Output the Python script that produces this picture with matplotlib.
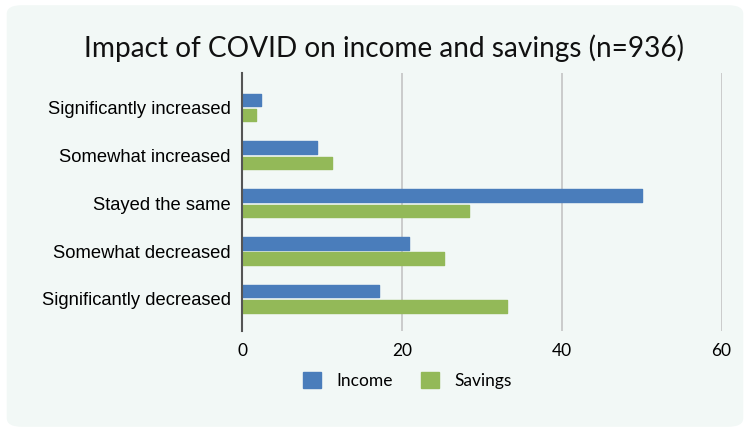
import matplotlib.pyplot as plt
import numpy as np
from matplotlib.patches import FancyBboxPatch

categories = ["Significantly increased", "Somewhat increased", "Stayed the same",
              "Somewhat decreased", "Significantly decreased"]
income = [2.4, 9.4, 50.0, 20.9, 17.2]
savings = [1.8, 11.3, 28.4, 25.3, 33.1]
ticks = [0, 20, 40, 60]

blue = "#4a7dbb"
green = "#93b958"
panel = "#f2f8f6"

fig = plt.figure(figsize=(7.5, 4.32), dpi=100)
fig.patch.set_facecolor("white")

# rounded panel behind everything
bg = FancyBboxPatch((0.009, 0.012), 0.982, 0.976, boxstyle="round,pad=0,rounding_size=0.02",
                    transform=fig.transFigure, facecolor=panel, edgecolor="none", zorder=-10)
fig.patches.append(bg)

ax = fig.add_axes([0.3227, 1 - 331 / 432, 0.962 - 0.3227, (331 - 73) / 432])
ax.set_facecolor("none")
ax.set_zorder(2)

y = np.arange(len(categories))
h = 0.26
off = 0.16
ax.barh(y - off, income, height=h, color=blue, edgecolor=blue, linewidth=1,
        joinstyle="round", label="Income", zorder=3)
ax.barh(y + off, savings, height=h, color=green, edgecolor=green, linewidth=1,
        joinstyle="round", label="Savings", zorder=3)

ax.set_ylim(4.67, -0.72)
ax.set_xlim(0, 60)
ax.set_xticks(ticks)
ax.set_xticklabels([str(t) for t in ticks], family="Lato", fontsize=12.5)
ax.set_yticks(y)
ax.set_yticklabels(categories, family="Liberation Sans", fontsize=13.2)
ax.tick_params(axis="both", length=0, pad=9)
ax.tick_params(axis="y", pad=8)

ax.grid(axis="x", color="#c4c4c4", linewidth=1.2, zorder=1)
for s in ["top", "right", "bottom"]:
    ax.spines[s].set_visible(False)
ax.spines["left"].set_color("#555555")
ax.spines["left"].set_linewidth(1.5)
ax.spines["left"].set_zorder(4)

fig.text(0.512, 0.888, "Impact of COVID on income and savings (n=936)",
         ha="center", va="center", family="Lato", fontsize=20.2, color="#111111")

leg = fig.legend(loc="center", bbox_to_anchor=(0.543, 0.12), ncol=2, frameon=False,
                 prop={"family": "Lato", "size": 12.5}, handlelength=1.05, handleheight=1.1,
                 columnspacing=1.6, handletextpad=0.9)

fig.savefig("out.png", dpi=100, facecolor="white")
